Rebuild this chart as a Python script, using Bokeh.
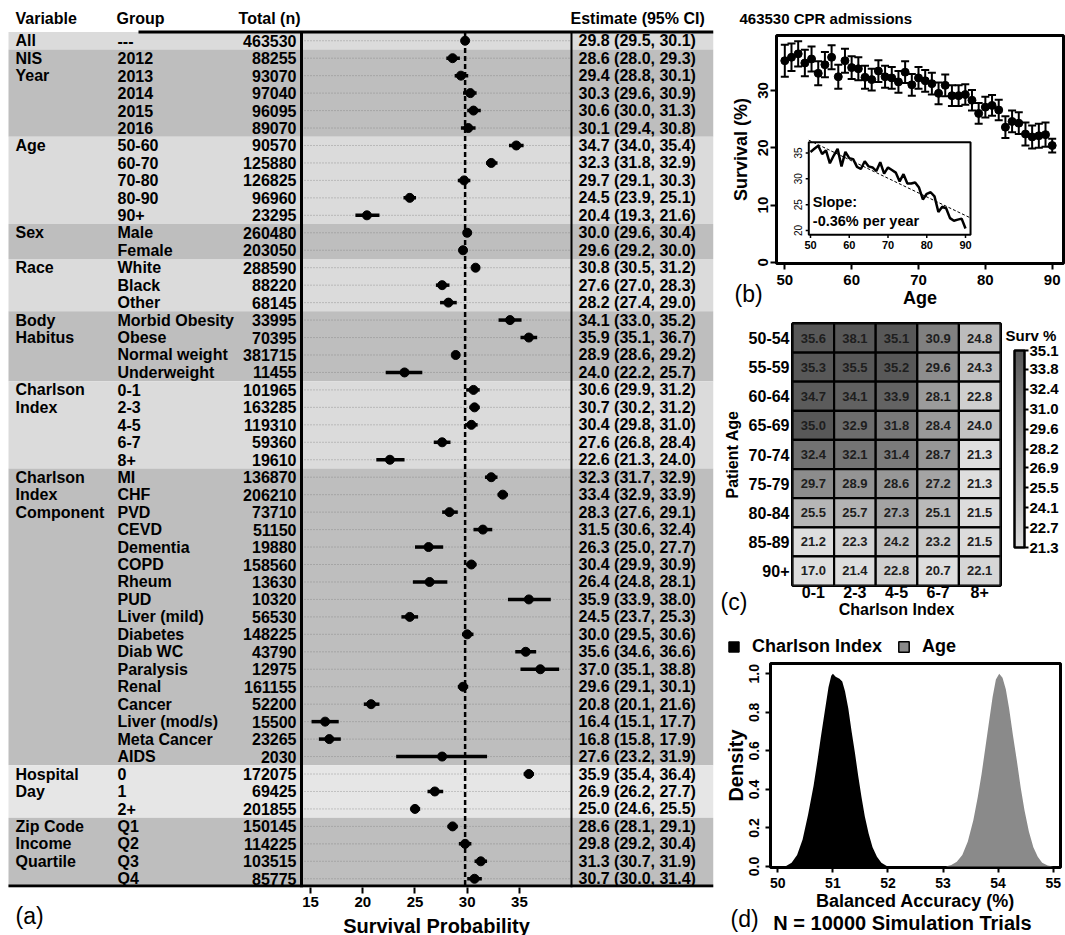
import numpy as np
from bokeh.plotting import figure
from bokeh.models import (Range1d, ColumnDataSource, FixedTicker, Whisker, TeeHead,
                          LinearColorMapper, ColorBar, Legend, LegendItem, PrintfTickFormatter)
from bokeh.core.properties import value
from bokeh.embed import file_html
from bokeh.resources import INLINE

FONT = "Liberation Sans"

# ---------------- data: panel (a) forest plot ----------------
group_lines = [["All"], ["NIS", "Year"], ["Age"], ["Sex"], ["Race"], ["Body", "Habitus"],
               ["Charlson", "Index"], ["Charlson", "Index", "Component"], ["Hospital", "Day"],
               ["Zip Code", "Income", "Quartile"]]
group_sizes = [1, 5, 5, 2, 3, 4, 5, 17, 3, 4]
row_labels = ["---", "2012", "2013", "2014", "2015", "2016",
              "50-60", "60-70", "70-80", "80-90", "90+",
              "Male", "Female", "White", "Black", "Other",
              "Morbid Obesity", "Obese", "Normal weight", "Underweight",
              "0-1", "2-3", "4-5", "6-7", "8+",
              "MI", "CHF", "PVD", "CEVD", "Dementia", "COPD", "Rheum", "PUD", "Liver (mild)",
              "Diabetes", "Diab WC", "Paralysis", "Renal", "Cancer", "Liver (mod/s)",
              "Meta Cancer", "AIDS", "0", "1", "2+", "Q1", "Q2", "Q3", "Q4"]
row_n = [463530, 88255, 93070, 97040, 96095, 89070, 90570, 125880, 126825, 96960, 23295,
         260480, 203050, 288590, 88220, 68145, 33995, 70395, 381715, 11455,
         101965, 163285, 119310, 59360, 19610,
         136870, 206210, 73710, 51150, 19880, 158560, 13630, 10320, 56530, 148225, 43790,
         12975, 161155, 52200, 15500, 23265, 2030, 172075, 69425, 201855,
         150145, 114225, 103515, 85775]
row_est = [29.8, 28.6, 29.4, 30.3, 30.6, 30.1, 34.7, 32.3, 29.7, 24.5, 20.4, 30.0, 29.6,
           30.8, 27.6, 28.2, 34.1, 35.9, 28.9, 24.0, 30.6, 30.7, 30.4, 27.6, 22.6,
           32.3, 33.4, 28.3, 31.5, 26.3, 30.4, 26.4, 35.9, 24.5, 30.0, 35.6, 37.0, 29.6,
           20.8, 16.4, 16.8, 27.6, 35.9, 26.9, 25.0, 28.6, 29.8, 31.3, 30.7]
row_lo = [29.5, 28.0, 28.8, 29.6, 30.0, 29.4, 34.0, 31.8, 29.1, 23.9, 19.3, 29.6, 29.2,
          30.5, 27.0, 27.4, 33.0, 35.1, 28.6, 22.2, 29.9, 30.2, 29.8, 26.8, 21.3,
          31.7, 32.9, 27.6, 30.6, 25.0, 29.9, 24.8, 33.9, 23.7, 29.5, 34.6, 35.1, 29.1,
          20.1, 15.1, 15.8, 23.2, 35.4, 26.2, 24.6, 28.1, 29.2, 30.7, 30.0]
row_hi = [30.1, 29.3, 30.1, 30.9, 31.3, 30.8, 35.4, 32.9, 30.3, 25.1, 21.6, 30.4, 30.0,
          31.2, 28.3, 29.0, 35.2, 36.7, 29.2, 25.7, 31.2, 31.2, 31.0, 28.4, 24.0,
          32.9, 33.9, 29.1, 32.4, 27.7, 30.9, 28.1, 38.0, 25.3, 30.6, 36.6, 38.8, 30.1,
          21.6, 17.7, 17.9, 31.9, 36.4, 27.7, 25.5, 29.1, 30.4, 31.9, 31.4]
forest_ticks = [15, 20, 25, 30, 35]

# ---------------- data: panel (b) survival by age ----------------
ages = [50, 51, 52, 53, 54, 55, 56, 57, 58, 59, 60, 61, 62, 63, 64, 65, 66, 67, 68, 69,
        70, 71, 72, 73, 74, 75, 76, 77, 78, 79, 80, 81, 82, 83, 84, 85, 86, 87, 88, 89, 90]
surv = [35.2, 35.8, 36.4, 34.8, 35.5, 33.0, 34.5, 35.8, 32.4, 35.2,
        34.0, 33.8, 32.3, 31.9, 33.4, 32.4, 32.2, 31.5, 33.2, 31.0,
        32.2, 31.7, 31.2, 29.5, 30.9, 29.1, 29.1, 29.3, 28.3, 26.0,
        27.1, 27.4, 26.6, 23.6, 24.6, 24.3, 22.4, 21.9, 22.1, 22.3, 20.4]
surv_err = [2.8, 2.4, 2.2, 2.3, 2.2, 2.1, 2.2, 2.1, 2.1, 2.1,
            2.0, 2.0, 2.0, 1.9, 1.9, 1.9, 1.9, 1.9, 1.9, 1.9,
            1.9, 1.9, 1.9, 1.9, 1.9, 1.8, 1.8, 1.8, 1.8, 1.8,
            1.8, 1.8, 1.8, 1.9, 1.9, 1.9, 2.0, 2.0, 2.1, 2.1, 1.2]
slope_text = ["Slope:", "-0.36% per year"]

# ---------------- data: panel (c) heatmap ----------------
heat_ages = ["50-54", "55-59", "60-64", "65-69", "70-74", "75-79", "80-84", "85-89", "90+"]
heat_cci = ["0-1", "2-3", "4-5", "6-7", "8+"]
heat_vals = [[35.6, 38.1, 35.1, 30.9, 24.8],
             [35.3, 35.5, 35.2, 29.6, 24.3],
             [34.7, 34.1, 33.9, 28.1, 22.8],
             [35.0, 32.9, 31.8, 28.4, 24.0],
             [32.4, 32.1, 31.4, 28.7, 21.3],
             [29.7, 28.9, 28.6, 27.2, 21.3],
             [25.5, 25.7, 27.3, 25.1, 21.5],
             [21.2, 22.3, 24.2, 23.2, 21.5],
             [17.0, 21.4, 22.8, 20.7, 22.1]]
cb_ticks = [21.3, 22.7, 24.1, 25.5, 26.9, 28.2, 29.6, 31.0, 32.4, 33.8, 35.1]

# ---------------- data: panel (d) densities ----------------
cci_x = [50.00, 50.15, 50.25, 50.35, 50.45, 50.55, 50.65, 50.72, 50.78, 50.85, 50.92, 50.97,
         51.00, 51.05, 51.12, 51.17, 51.22, 51.28, 51.34, 51.40, 51.46, 51.52, 51.58, 51.65,
         51.72, 51.80, 51.88, 51.97, 52.00]
cci_y = [0.0, 0.003, 0.02, 0.06, 0.14, 0.27, 0.42, 0.55, 0.67, 0.80, 0.93, 0.99,
         1.00, 0.985, 0.975, 0.96, 0.91, 0.82, 0.70, 0.59, 0.47, 0.36, 0.26, 0.17,
         0.10, 0.05, 0.02, 0.004, 0.0]
age_x = [53.05, 53.15, 53.25, 53.35, 53.45, 53.55, 53.63, 53.70, 53.77, 53.84, 53.90, 53.96,
         54.02, 54.08, 54.14, 54.20, 54.27, 54.34, 54.41, 54.48, 54.56, 54.64, 54.72, 54.80,
         54.90, 55.00]
age_y = [0.0, 0.008, 0.025, 0.06, 0.13, 0.24, 0.36, 0.48, 0.62, 0.76, 0.88, 0.97,
         1.00, 0.98, 0.92, 0.82, 0.68, 0.55, 0.41, 0.29, 0.18, 0.10, 0.05, 0.02, 0.005, 0.0]
legend_labels = ["Charlson Index", "Age"]

# ---------------- styles ----------------
band_shades = ["#dbdbdb", "#bebebe", "#dbdbdb", "#bebebe", "#dbdbdb", "#bebebe",
               "#dbdbdb", "#bebebe", "#e6e6e6", "#bebebe"]
AGE_GRAY = "#8a8a8a"


def place(x, y, z=1):
    return {"position": "absolute", "left": f"{x}px", "top": f"{y}px", "z-index": str(z)}


def style_axis(ax, size="15px", tick_out=6, standoff=3):
    ax.major_label_text_font = FONT
    ax.major_label_text_font_size = size
    ax.major_label_text_font_style = "bold"
    ax.major_label_text_color = "black"
    ax.axis_label_text_font = FONT
    ax.axis_label_text_font_style = "bold"
    ax.axis_label_text_color = "black"
    ax.minor_tick_line_color = None
    ax.major_tick_line_color = "black"
    ax.major_tick_line_width = 2
    ax.major_tick_in = 0
    ax.major_tick_out = tick_out
    ax.major_label_standoff = standoff
    ax.axis_line_color = None


def base_fig(w, h, xr, yr, left, right, top, bottom, pos, **kw):
    p = figure(width=w, height=h, x_range=xr, y_range=yr, output_backend="svg",
               toolbar_location=None, min_border_left=left, min_border_right=right,
               min_border_top=top, min_border_bottom=bottom, styles=place(*pos), **kw)
    p.xgrid.visible = False
    p.ygrid.visible = False
    return p


# ================= panel (a) =================
WA, HA = 720, 935
FA_R, FA_B = 713, 887
TOP_LINE = 31.5
n_rows = len(row_labels)
ys = list(range(n_rows))
starts = np.cumsum([0] + group_sizes[:-1])
sizes = np.array(group_sizes)
row_h = (FA_B - TOP_LINE) / n_rows
y_top = -0.5 - TOP_LINE / row_h
px_per = 10.447
x0 = 15 - 310 / px_per

pa = base_fig(WA, HA, Range1d(x0, x0 + FA_R / px_per), Range1d(n_rows - 0.5, y_top),
              0, WA - FA_R, 0, HA - FA_B, (0, 0), y_axis_location=None)
pa.extra_x_ranges = {"px": Range1d(0, FA_R)}
pa.outline_line_color = None

pa.quad(left=8, right=FA_R, top=starts - 0.5, bottom=starts + sizes - 0.5,
        fill_color=band_shades, line_color=None, x_range_name="px")
pa.segment(x0=301, x1=571, y0=ys, y1=ys, x_range_name="px", line_color="#7a7a7a",
           line_width=0.7, line_dash="1 2")
pa.segment(x0=row_est[0], x1=row_est[0], y0=-0.5, y1=n_rows - 0.5, line_color="black",
           line_width=2.5, line_dash="5 3")
pa.segment(x0=301, x1=301, y0=-0.5, y1=n_rows - 0.5, x_range_name="px",
           line_color="black", line_width=3)
pa.segment(x0=571, x1=571, y0=-0.5, y1=n_rows - 0.5, x_range_name="px",
           line_color="black", line_width=2)
pa.segment(x0=138, x1=FA_R, y0=-0.5, y1=-0.5, x_range_name="px",
           line_color="black", line_width=3)
yb = n_rows - 0.5 - 1.5 / row_h
pa.segment(x0=8, x1=FA_R, y0=yb, y1=yb, x_range_name="px", line_color="black", line_width=3)
pa.segment(x0=row_lo, x1=row_hi, y0=ys, y1=ys, line_color="black", line_width=3.5)
pa.scatter(row_est, ys, size=9, color="black")

var_text, var_y = [], []
for lines, s in zip(group_lines, starts):
    for k, t in enumerate(lines):
        var_text.append(t)
        var_y.append(int(s) + k)
est_text = [f"{e:.1f} ({l:.1f}, {h:.1f})" for e, l, h in zip(row_est, row_lo, row_hi)]
n_text = [str(n) for n in row_n]

tkw = dict(x_range_name="px", text_font=value(FONT), text_font_style="bold",
           text_font_size="16px", text_baseline="middle", text_color="black")
pa.text(x=15, y=var_y, text=var_text, text_align="left", **tkw)
pa.text(x=117, y=ys, text=row_labels, text_align="left", **tkw)
pa.text(x=296, y=ys, text=n_text, text_align="right", **tkw)
pa.text(x=578, y=ys, text=est_text, text_align="left", **tkw)
hy = -0.5 - 13.5 / row_h
pa.text(x=[15, 116, 570], y=[hy, hy, hy], text=["Variable", "Group", "Estimate (95% CI)"],
        text_align="left", **tkw)
pa.text(x=[300], y=[hy], text=["Total (n)"], text_align="right", **tkw)

pa.xaxis.ticker = FixedTicker(ticks=forest_ticks)
style_axis(pa.xaxis[0], size="15px", tick_out=6, standoff=3)

# ================= panel (b) =================
WR = 345
pb = base_fig(WR, 312, Range1d(48.758, 91.69), Range1d(-0.19, 39.6), 56, 2, 35, 49, (720, 0))
pb.extra_x_ranges = {"cx": Range1d(56, 343), "ix": Range1d(41.226, 115.29)}
pb.extra_y_ranges = {"cy": Range1d(263, 35), "iy": Range1d(13.617, 57.72)}
pb.outline_line_color = "black"
pb.outline_line_width = 3
pb.outline_line_alpha = 1

src_b = ColumnDataSource(dict(age=ages, surv=surv,
                              up=[s + e for s, e in zip(surv, surv_err)],
                              lo=[s - e for s, e in zip(surv, surv_err)]))
pb.add_layout(Whisker(source=src_b, base="age", upper="up", lower="lo", dimension="height",
                      line_color="black", line_width=2,
                      upper_head=TeeHead(size=8, line_width=2, line_color="black"),
                      lower_head=TeeHead(size=8, line_width=2, line_color="black")))
pb.scatter("age", "surv", source=src_b, size=8, color="black")

# inset
ib_l, ib_r, ib_b, ib_t = 49.56, 91.3, 19.17, 37.08
pb.quad(left=[ib_l], right=[ib_r], bottom=[ib_b], top=[ib_t], fill_color="white",
        line_color="black", line_width=2, x_range_name="ix", y_range_name="iy")
pb.line(ages, surv, line_color="black", line_width=2.5, x_range_name="ix", y_range_name="iy")
slope, icpt = np.polyfit(ages, surv, 1)
pb.line([ib_l, ib_r], [icpt + slope * ib_l, icpt + slope * ib_r], line_color="black",
        line_width=1, line_dash="3 2", x_range_name="ix", y_range_name="iy")
inset_xt = [50, 60, 70, 80, 90]
inset_yt = [20, 25, 30, 35]
pb.segment(x0=inset_xt, x1=inset_xt, y0=ib_b, y1=ib_b - 0.6, line_color="black",
           line_width=1.5, x_range_name="ix", y_range_name="iy")
pb.text(x=inset_xt, y=[17.25] * 5, text=[str(t) for t in inset_xt], x_range_name="ix",
        y_range_name="iy", text_font=value(FONT), text_font_size="11px",
        text_font_style="bold", text_align="center", text_baseline="middle")
pb.segment(x0=ib_l, x1=ib_l - 0.8, y0=inset_yt, y1=inset_yt, line_color="black",
           line_width=1.5, x_range_name="ix", y_range_name="iy")
pb.text(x=[46.9] * 4, y=inset_yt, text=[str(t) for t in inset_yt], x_range_name="ix",
        y_range_name="iy", text_font=value(FONT), text_font_size="10px", angle=np.pi / 2,
        text_align="center", text_baseline="middle")
pb.text(x=[92.3, 92.3], y=[201.7, 220.5], text=slope_text,
        x_range_name="cx", y_range_name="cy", text_font=value(FONT),
        text_font_size="14.5px", text_font_style="bold", text_align="left",
        text_baseline="middle")

pb.xaxis.ticker = FixedTicker(ticks=[50, 60, 70, 80, 90])
pb.yaxis.ticker = FixedTicker(ticks=[0, 10, 20, 30])
style_axis(pb.xaxis[0], "15px", 6, 5)
style_axis(pb.yaxis[0], "15px", 6, 2)
pb.yaxis.major_label_orientation = "vertical"
pb.xaxis.axis_label = "Age"
pb.yaxis.axis_label = "Survival (%)"
pb.xaxis.axis_label_text_font_size = "18px"
pb.yaxis.axis_label_text_font_size = "18px"
pb.xaxis.axis_label_standoff = 0
pb.yaxis.axis_label_standoff = 5

# ================= panel (c) =================
n_ha, n_hc = len(heat_ages), len(heat_cci)
pc = base_fig(WR, 310, Range1d(-0.5, n_hc - 0.5), Range1d(n_ha - 0.5, -0.5),
              70, 65, 11, 37, (720, 312))
pc.outline_line_color = "black"
pc.outline_line_width = 3

gray_pal = ["#%02x%02x%02x" % (v, v, v) for v in np.linspace(222, 88, 256).astype(int)]
mapper = LinearColorMapper(palette=gray_pal, low=cb_ticks[0], high=cb_ticks[-1],
                           low_color=gray_pal[0], high_color=gray_pal[-1])
hx, hy_, hv = [], [], []
for i, rowv in enumerate(heat_vals):
    for j, v in enumerate(rowv):
        hx.append(j)
        hy_.append(i)
        hv.append(v)
src_c = ColumnDataSource(dict(x=hx, y=hy_, v=hv, t=[f"{v:.1f}" for v in hv]))
pc.rect("x", "y", width=1, height=1, source=src_c,
        fill_color={"field": "v", "transform": mapper}, line_color="black", line_width=2.2)
pc.text("x", "y", text="t", source=src_c, text_font=value(FONT), text_font_size="13px",
        text_font_style="bold", text_color="#1e1e1e", text_align="center",
        text_baseline="middle")
pc.xaxis.ticker = FixedTicker(ticks=list(range(n_hc)))
pc.xaxis.major_label_overrides = {j: lab for j, lab in enumerate(heat_cci)}
pc.yaxis.ticker = FixedTicker(ticks=list(range(n_ha)))
pc.yaxis.major_label_overrides = {i: lab for i, lab in enumerate(heat_ages)}
style_axis(pc.xaxis[0], "16px", 0, 0)
style_axis(pc.yaxis[0], "16px", 0, 3)
pc.xaxis.major_tick_line_color = None
pc.yaxis.major_tick_line_color = None
pc.xaxis.axis_label = "Charlson Index"
pc.yaxis.axis_label = "Patient Age"
pc.xaxis.axis_label_text_font_size = "16px"
pc.yaxis.axis_label_text_font_size = "16px"
pc.xaxis.axis_label_standoff = 0
pc.yaxis.axis_label_standoff = 5

cbar = ColorBar(color_mapper=mapper, location=(222, 38), width=10, height=197,
                padding=0, margin=0, ticker=FixedTicker(ticks=cb_ticks),
                formatter=PrintfTickFormatter(format="%.1f"),
                major_label_text_font=FONT, major_label_text_font_size="15px",
                major_label_text_font_style="bold", major_label_text_color="black",
                major_tick_line_color="black", major_tick_line_width=2,
                major_tick_in=0, major_tick_out=4, minor_tick_line_color=None,
                label_standoff=1, bar_line_color="black", bar_line_width=2.5,
                background_fill_color=None, border_line_color=None)
pc.add_layout(cbar)

# ================= panel (d) =================
pd_ = base_fig(WR, 313, Range1d(49.867, 55.133), Range1d(-0.0052, 1.0535), 50, 5, 41, 68,
               (720, 622))
pd_.outline_line_color = "black"
pd_.outline_line_width = 3

pd_.varea(x=cci_x, y1=0, y2=cci_y, fill_color="black")
pd_.varea(x=age_x, y1=0, y2=age_y, fill_color=AGE_GRAY)

pd_.xaxis.ticker = FixedTicker(ticks=[50, 51, 52, 53, 54, 55])
pd_.yaxis.ticker = FixedTicker(ticks=[0.0, 0.2, 0.4, 0.6, 0.8, 1.0])
pd_.yaxis.formatter = PrintfTickFormatter(format="%.1f")
style_axis(pd_.xaxis[0], "14px", 5, 5)
style_axis(pd_.yaxis[0], "14px", 5, 6)
pd_.yaxis.major_label_orientation = "vertical"
pd_.xaxis.axis_label = "Balanced Accuracy (%)"
pd_.yaxis.axis_label = "Density"
pd_.xaxis.axis_label_text_font_size = "18px"
pd_.yaxis.axis_label_text_font_size = "20px"
pd_.xaxis.axis_label_standoff = 0
pd_.yaxis.axis_label_standoff = 0

# ================= free texts & legend (transparent overlay over the page) =================
ov = figure(width=1065, height=935, x_range=Range1d(0, 1065), y_range=Range1d(935, 0),
            output_backend="svg", toolbar_location=None, x_axis_location=None,
            y_axis_location=None, min_border=0, styles=place(0, 0, 5))
ov.outline_line_color = None
ov.background_fill_color = None
ov.border_fill_color = None
ov.grid.visible = False

panel_letters = ["(a)", "(b)", "(c)", "(d)"]
ov.text(x=[15, 734, 720, 730], y=[915, 293.5, 601, 918], text=panel_letters,
        text_font=value(FONT), text_font_size="23px", text_align="left",
        text_baseline="middle", text_color="black")
ov.text(x=[436, 902], y=[925, 922], text=["Survival Probability", "N = 10000 Simulation Trials"],
        text_font=value(FONT), text_font_size="20px", text_font_style="bold",
        text_align="center", text_baseline="middle", text_color="black")
ov.text(x=[739, 1005], y=[18, 335], text=["463530 CPR admissions", "Surv %"],
        text_font=value(FONT), text_font_size="15px", text_font_style="bold",
        text_align="left", text_baseline="middle", text_color="black")

# legend keys: renderers whose only quad lies off the page, so only the legend swatch shows
leg_c = ov.quad(left=[-60], right=[-50], top=[-60], bottom=[-50], fill_color="black",
                line_color="black")
leg_a = ov.quad(left=[-60], right=[-50], top=[-60], bottom=[-50], fill_color=AGE_GRAY,
                line_color="black", line_width=1.5)
legend = Legend(items=[LegendItem(label=legend_labels[0], renderers=[leg_c]),
                       LegendItem(label=legend_labels[1], renderers=[leg_a])],
                location=(727, 278), orientation="horizontal", glyph_width=13,
                glyph_height=13, label_standoff=12, spacing=15, padding=0, margin=0,
                border_line_color=None, background_fill_alpha=0,
                label_text_font=FONT, label_text_font_size="18px",
                label_text_font_style="bold", label_text_color="black")
ov.add_layout(legend)

open("out.html", "w").write(file_html([pa, pb, pc, pd_, ov], INLINE, "CPR survival"))
